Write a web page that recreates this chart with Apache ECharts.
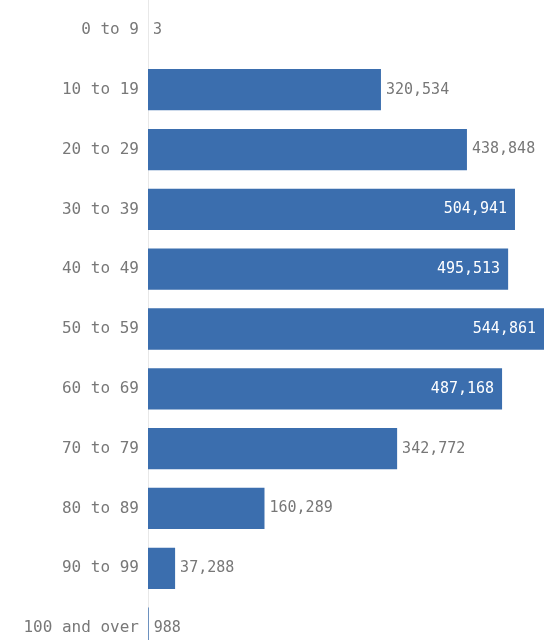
<!DOCTYPE html>
<html>
<head>
<meta charset="utf-8">
<script src="https://cdn.jsdelivr.net/npm/echarts@6/dist/echarts.min.js"></script>
<style>
  html, body { margin: 0; padding: 0; background: #ffffff; }
  #chart { width: 558px; height: 640px; }
</style>
</head>
<body>
<div id="chart"></div>
<script>
// Age groups, top to bottom
const ageGroups = ['0 to 9', '10 to 19', '20 to 29', '30 to 39', '40 to 49', '50 to 59',
  '60 to 69', '70 to 79', '80 to 89', '90 to 99', '100 and over'];
// Count per age group
const counts = [3, 320534, 438848, 504941, 495513, 544861, 487168, 342772, 160289, 37288, 988];
// Bars at or above this value carry their label inside the bar
const insideThreshold = 480000;

const fmt = v => v.toLocaleString('en-US');
const barColor = '#3b6eae';
const textFont = '"DejaVu Sans Mono", monospace';

const seriesData = counts.map(v => {
  const inside = v >= insideThreshold;
  return {
    value: v,
    label: inside
      ? { position: 'insideRight', color: '#ffffff', distance: 8 }
      : { position: 'right', color: '#777777', distance: 5 }
  };
});

const chart = echarts.init(document.getElementById('chart'), null, { renderer: 'canvas' });
chart.setOption({
  animation: false,
  backgroundColor: '#ffffff',
  grid: {
    left: 148, top: 0, width: 407, height: 658,
    containLabel: false, outerBoundsMode: 'none'
  },
  xAxis: {
    type: 'value', min: 0, max: 560000,
    show: false
  },
  yAxis: {
    type: 'category',
    data: ageGroups,
    inverse: true,
    axisLine: { show: true, lineStyle: { color: '#e8e8e8', width: 1 } },
    axisTick: { show: false },
    axisLabel: {
      color: '#787878', fontSize: 16, fontFamily: textFont, margin: 9
    },
    splitLine: { show: false }
  },
  series: [{
    type: 'bar',
    data: seriesData,
    barCategoryGap: '31%',
    itemStyle: { color: barColor },
    label: {
      show: true,
      fontSize: 15,
      fontFamily: textFont,
      formatter: p => fmt(p.value)
    }
  }]
});
</script>
</body>
</html>
